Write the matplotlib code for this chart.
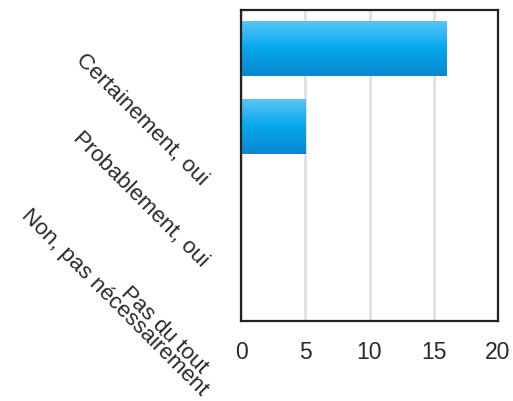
import matplotlib
matplotlib.use("Agg")
import matplotlib.pyplot as plt
from matplotlib.colors import LinearSegmentedColormap
import numpy as np

plt.rcParams['font.family'] = ['Liberation Sans', 'DejaVu Sans']

# answers (top to bottom) and counts
categories = ["Certainement, oui", "Probablement, oui", "Non, pas nécessairement", "Pas du tout"]
counts = [16, 5, 0, 0]
xticks = [0, 5, 10, 15, 20]

fig = plt.figure(figsize=(5.13, 4.02), dpi=100)
ax = fig.add_axes([241/513, 1 - 322/402, 257/513, 311/402])

pos = np.arange(len(categories))
bars = ax.barh(pos, counts, height=0.71, color="#04a9ec", zorder=2)

# vertical gradient on each bar
grad = LinearSegmentedColormap.from_list("blu", ["#0a87d0", "#04a8ec", "#5ac6f8"])
g = np.linspace(0, 1, 100).reshape(-1, 1)
for b in bars:
    if b.get_width() <= 0:
        continue
    x0, y0 = b.get_x(), b.get_y()
    w, h = b.get_width(), b.get_height()
    im = ax.imshow(g, cmap=grad, aspect="auto", origin="upper",
                   extent=[x0, x0 + w, y0, y0 + h], zorder=3)
    im.set_clip_path(b)
    b.set_alpha(0)

ax.set_xlim(0, 20)
ax.set_ylim(len(categories) - 0.5, -0.5)
ax.set_xticks(xticks)
ax.set_yticks(pos)
ax.set_yticklabels(categories, rotation=-45, ha="right", va="top",
                   rotation_mode="default")
ax.tick_params(axis="y", length=0, pad=21, labelsize=16.1, labelcolor="#2a2a2a")
ax.tick_params(axis="x", length=0, pad=14, labelsize=16.5, labelcolor="#2a2a2a")

ax.grid(axis="x", color="#e2e2e2", linewidth=2.2, zorder=0)
ax.set_axisbelow(True)
for s in ax.spines.values():
    s.set_color("#222222")
    s.set_linewidth(1.6)
    s.set_zorder(5)

fig.savefig("out.png", dpi=100)
